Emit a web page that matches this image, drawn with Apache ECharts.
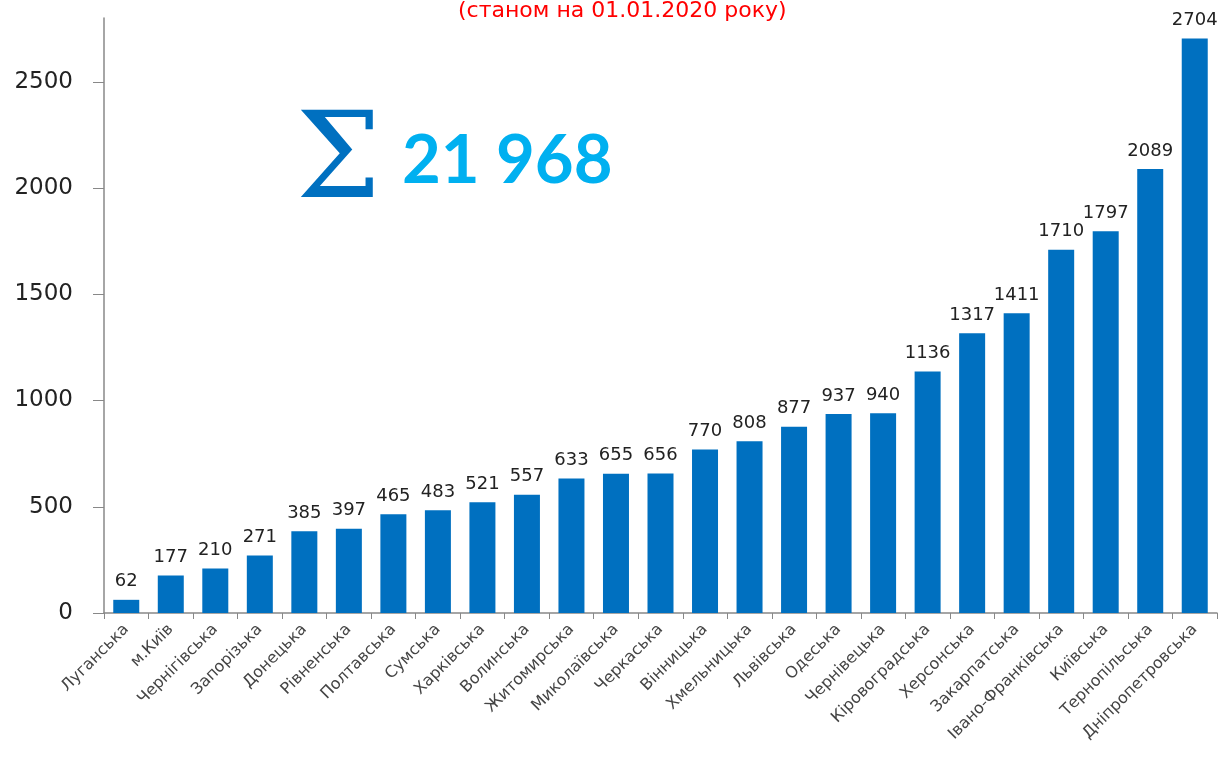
<!DOCTYPE html>
<html>
<head>
<meta charset="utf-8">
<script src="https://cdn.jsdelivr.net/npm/echarts@6/dist/echarts.min.js"></script>
<style>
    html, body { margin: 0; padding: 0; background: #fff; }
    #chart { width: 1220px; height: 760px; }
</style>
</head>
<body>
<div id="chart"></div>
<script>
    // області
    var regions = ['Луганська', 'м.Київ', 'Чернігівська', 'Запорізька', 'Донецька', 'Рівненська',
        'Полтавська', 'Сумська', 'Харківська', 'Волинська', 'Житомирська', 'Миколаївська',
        'Черкаська', 'Вінницька', 'Хмельницька', 'Львівська', 'Одеська', 'Чернівецька',
        'Кіровоградська', 'Херсонська', 'Закарпатська', 'Івано-Франківська', 'Київська',
        'Тернопільська', 'Дніпропетровська'];
    var counts = [62, 177, 210, 271, 385, 397, 465, 483, 521, 557, 633, 655, 656, 770, 808,
        877, 937, 940, 1136, 1317, 1411, 1710, 1797, 2089, 2704];
    var subtitle = '(станом на 01.01.2020 року)';
    var totalText = '21 968';

    var myChart = echarts.init(document.getElementById('chart'));
    var font = '"DejaVu Sans", Verdana, sans-serif';
    var option = {
        animation: false,
        grid: { left: 104, right: 3, top: 18, bottom: 147 },
        graphic: [
            {
                type: 'text', left: 458, top: 0,
                style: { text: subtitle, fill: '#ff0000', font: '22px ' + font }
            },
            {
                type: 'text', left: 296, top: 106,
                style: { text: 'Σ', fill: '#0070c0', font: '120px "DejaVu Serif", serif' }
            },
            {
                type: 'text', left: 402, top: 128,
                style: { text: totalText, fill: '#00b0f0', font: 'bold 67px Lato, "Open Sans", sans-serif' }
            }
        ],
        xAxis: {
            type: 'category',
            data: regions,
            axisLine: { lineStyle: { color: '#888', width: 1.5 } },
            axisTick: { show: true, length: 6, lineStyle: { color: '#888' } },
            axisLabel: { rotate: 45, interval: 0, color: '#444', fontSize: 16, fontFamily: font, margin: 14 }
        },
        yAxis: {
            type: 'value',
            min: 0, max: 2800, interval: 500,
            splitLine: { show: false },
            axisLine: { show: true, lineStyle: { color: '#888', width: 1.5 } },
            axisTick: { show: true, length: 11, lineStyle: { color: '#888' } },
            axisLabel: {
                color: '#222', fontSize: 23, fontFamily: font, margin: 31, showMaxLabel: false,
                formatter: function (v) { return String(v); }
            }
        },
        series: [{
            type: 'bar',
            data: counts,
            barWidth: 26,
            itemStyle: { color: '#0070c0' },
            label: { show: true, position: 'top', distance: 9, color: '#222', fontSize: 18, fontFamily: font }
        }]
    };
    myChart.setOption(option);
</script>
</body>
</html>
